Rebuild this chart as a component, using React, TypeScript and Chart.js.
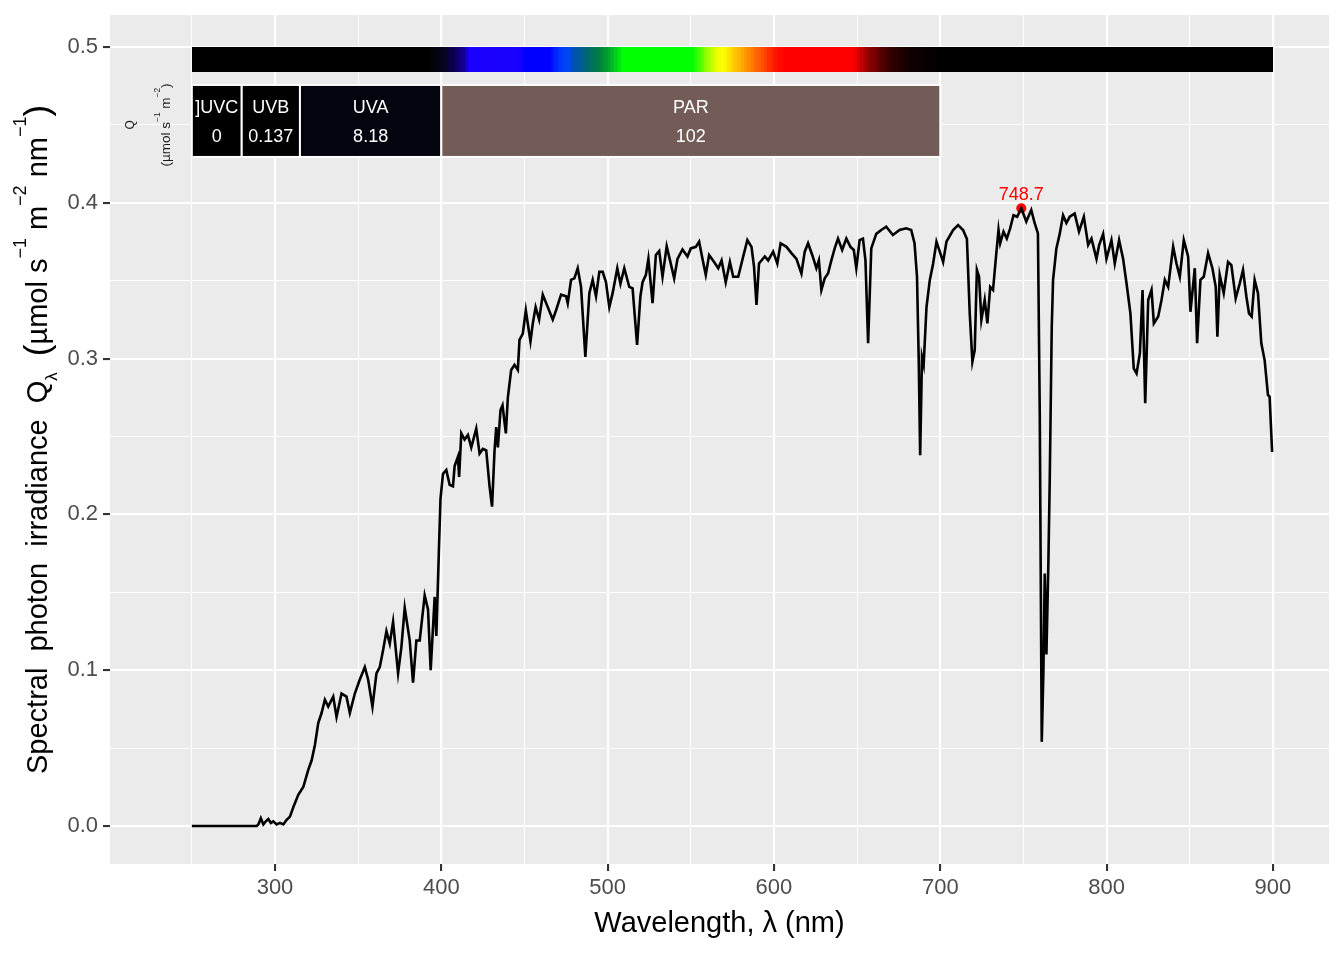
import { useEffect, useRef } from "react";
import { Chart, registerables } from "chart.js";

Chart.register(...registerables);

// spectral photon irradiance (nm, µmol s-1 m-2 nm-1)
const WAVELENGTH = [
  250, 260, 270, 280, 289, 290, 291.5, 293, 294.5, 296, 297.5, 299, 301, 303, 305, 307, 309,
  311, 314, 317, 320, 322, 324, 326, 328, 330, 332, 335, 337, 340, 343, 345, 348, 351, 354,
  356, 358.6, 361, 363, 365, 367, 369, 371, 374, 376, 378, 381, 383, 385, 387, 390, 392,
  393.6, 396, 397, 398.5, 399.5, 401, 403, 405, 407, 408, 410, 410.7, 412, 414, 416, 418,
  421, 423, 425, 427, 429, 430.5, 432, 433, 434, 435.6, 436.8, 438.8, 440, 442, 444, 446,
  447, 449, 450.8, 452.6, 453.6, 455, 456.7, 458.8, 461, 464, 467, 469, 472, 475, 476, 478,
  480, 482, 484, 486.6, 489, 491, 493, 495, 497, 499, 501, 503, 505.8, 507.7, 510, 513, 515,
  517.7, 519.7, 521, 523, 524.5, 527, 529, 531, 533, 535.5, 537.5, 540, 542, 545, 548, 550,
  553, 555, 557, 559, 561, 564, 566.5, 568.5, 571, 573.5, 575.5, 578.5, 581.5, 584, 586.5,
  588, 589.5, 591, 594.5, 596.5, 599.5, 602, 604, 607.5, 610.5, 613.5, 616.5, 618.5, 620.5,
  623, 625.5, 627, 628.5, 630.5, 632.5, 634.5, 636.5, 638.5, 641, 643.5, 646, 648, 649.5,
  651.5, 653.5, 655, 656.6, 658.5, 661.5, 664.5, 667.5, 671.5, 675.5, 679.5, 682.5, 684.5,
  686, 687, 687.9, 689, 690, 691.7, 693.7, 695.7, 697.7, 699.7, 701.7, 703.7, 707.7, 710.7,
  713.7, 716, 717.7, 719.3, 720.7, 722, 723.3, 724.7, 726.7, 728.3, 730, 731.7, 733.5, 735,
  736, 738, 740, 742, 744, 746.2, 748.7, 751.7, 754.7, 756.7, 758.7, 759.8, 761, 762, 762.8,
  763.8, 765, 765.8, 767, 767.8, 769.8, 771.8, 773.8, 775.8, 777.8, 780.8, 783.4, 786.3,
  788.9, 790.9, 793.9, 795.5, 797.9, 799.9, 802.9, 804.9, 807.5, 809.9, 812, 814.3, 816.3,
  818, 820, 821.6, 823.2, 825, 827, 828.4, 831, 833, 835, 837, 840, 842, 844, 846.4, 849,
  850.4, 853, 854.4, 856.4, 858.4, 861, 863.6, 865.6, 866.6, 868, 870.4, 873, 875, 877.6,
  880, 882, 884, 885.6, 887.2, 889, 891, 893, 895, 897, 898, 899.5,
];
const Q_IRRAD = [
  0, 0, 0, 0, 0, 0.001, 0.005, 0.001, 0.003, 0.0045, 0.002, 0.003, 0.001, 0.002, 0.001, 0.004, 0.006,
  0.012, 0.02, 0.025, 0.036, 0.042, 0.052, 0.066, 0.0725, 0.081, 0.0766, 0.083, 0.07, 0.085, 0.083, 0.0725, 0.085, 0.094, 0.102,
  0.094, 0.0766, 0.098, 0.102, 0.113, 0.125, 0.117, 0.131, 0.098, 0.115, 0.14, 0.119, 0.092, 0.119, 0.119, 0.148, 0.139,
  0.1, 0.147, 0.122, 0.175, 0.21, 0.226, 0.2285, 0.219, 0.218, 0.231, 0.237, 0.224, 0.252, 0.248, 0.251, 0.243,
  0.255, 0.239, 0.242, 0.241, 0.218, 0.205, 0.241, 0.256, 0.243, 0.267, 0.27, 0.252, 0.275, 0.2927, 0.296, 0.2927,
  0.312, 0.316, 0.331, 0.318, 0.311, 0.3226, 0.333, 0.325, 0.341, 0.333, 0.325, 0.331, 0.341, 0.34, 0.3355, 0.3505,
  0.3515, 0.358, 0.346, 0.301, 0.342, 0.3505, 0.34, 0.3557, 0.3557, 0.349, 0.333, 0.342, 0.358, 0.348, 0.358, 0.346, 0.345,
  0.3087, 0.34, 0.349, 0.3537, 0.364, 0.3355, 0.3665, 0.369, 0.3525, 0.372, 0.363, 0.3515, 0.364, 0.37, 0.3655, 0.3707,
  0.3717, 0.375, 0.364, 0.3537, 0.3665, 0.362, 0.358, 0.363, 0.349, 0.362, 0.3525, 0.3525, 0.3655, 0.376, 0.3717,
  0.359, 0.3344, 0.361, 0.3655, 0.363, 0.3686, 0.361, 0.374, 0.3717, 0.3677, 0.364, 0.3546, 0.3686, 0.374,
  0.3665, 0.358, 0.363, 0.344, 0.3515, 0.3546, 0.363, 0.3707, 0.377, 0.3697, 0.377, 0.3717, 0.3697, 0.358,
  0.376, 0.377, 0.363, 0.3098, 0.3707, 0.38, 0.3825, 0.3846, 0.3793, 0.3825, 0.3836, 0.3825, 0.374,
  0.3525, 0.301, 0.238, 0.301, 0.296, 0.333, 0.3505, 0.361, 0.375, 0.3686, 0.362, 0.375, 0.3825, 0.3857,
  0.3825, 0.3767, 0.329, 0.298, 0.3055, 0.3569, 0.3525, 0.3248, 0.3376, 0.3226, 0.346, 0.344, 0.3655, 0.3825,
  0.374, 0.3815, 0.377, 0.3836, 0.392, 0.391, 0.3965, 0.388, 0.3954, 0.387, 0.3803, 0.265, 0.054, 0.1, 0.162,
  0.11, 0.17, 0.222, 0.32, 0.3505, 0.3707, 0.38, 0.392, 0.387, 0.391, 0.393, 0.3815, 0.391,
  0.3729, 0.377, 0.364, 0.3729, 0.38, 0.364, 0.376, 0.361, 0.376, 0.364, 0.348, 0.329, 0.2937,
  0.2905, 0.3034, 0.344, 0.2713, 0.3376, 0.344, 0.3226, 0.327, 0.3376, 0.3505, 0.346, 0.3718, 0.361, 0.3525, 0.376, 0.3655,
  0.33, 0.358, 0.3098, 0.3505, 0.3525, 0.3676, 0.358, 0.346, 0.314, 0.3537, 0.342, 0.362, 0.36, 0.3386,
  0.348, 0.3569, 0.34, 0.329, 0.327, 0.3505, 0.342, 0.3098, 0.299, 0.2766, 0.2755, 0.24,
];

// peak annotation
const PEAK_WL = [748.7];
const PEAK_Q = [0.3965];
const PEAK_LABEL = ["748.7"];

// wavebands and their integrated photon irradiance
const BAND_NAMES = ["]UVC", "UVB", "UVA", "PAR"];
const BAND_LOW = [250, 280, 315, 400];
const BAND_HIGH = [280, 315, 400, 700];
const BAND_VALUES = ["0", "0.137", "8.18", "102"];

const X_TICKS = [250, 300, 350, 400, 450, 500, 550, 600, 650, 700, 750, 800, 850, 900];
const Y_TICKS = [0, 0.05, 0.1, 0.15, 0.2, 0.25, 0.3, 0.35, 0.4, 0.45, 0.5];

// styling
const FONT = "'Liberation Sans', Arial, Helvetica, sans-serif";
const BAND_COLORS = ["#000000", "#010101", "#04040F", "#735C57"];
const SPECTRUM_NM = [250, 392, 401, 407, 413, 417, 447, 451, 465, 471, 476, 480, 485, 490, 495, 500, 505, 509, 551, 556, 561, 566, 570, 575, 580, 584, 588, 593, 597, 602, 606, 648, 652, 657, 662, 667, 671, 682, 700, 900];
const SPECTRUM_HEX = ["#000000", "#000000", "#05051E", "#0A0050", "#120090", "#1C00FF", "#1800FF", "#0000FF", "#0000FF", "#0035FF", "#0048F0", "#0050B8", "#006085", "#006F60", "#008040", "#00A030", "#00D020", "#00FF00", "#00FF00", "#55FF00", "#AAFF00", "#EEFF00", "#FFFF00", "#FFD000", "#FFB000", "#FF9000", "#FF7000", "#FF5000", "#FF3000", "#FF1000", "#FF0000", "#FF0000", "#C80000", "#900000", "#6A0000", "#440000", "#300000", "#100000", "#000000", "#000000"];

const BAR_TOP = 0.5;
const BAR_BOTTOM = 0.4839;
const BOX_TOP = 0.4756;
const BOX_BOTTOM = 0.4294;
const BOX_NAME_Y = 0.4608;
const BOX_VALUE_Y = 0.4424;

type Part = { t: string; sup?: boolean; sub?: boolean; big?: boolean };

const Y_TITLE: Part[] = [
  { t: "Spectral  photon  irradiance  Q" },
  { t: "λ", sub: true },
  { t: "  " },
  { t: "(", big: true },
  { t: "µmol s" },
  { t: "−1", sup: true },
  { t: " m" },
  { t: "−2", sup: true },
  { t: " nm" },
  { t: "−1", sup: true },
  { t: ")", big: true },
];
const Q_LINE1: Part[] = [{ t: "Q" }];
const Q_LINE2: Part[] = [
  { t: "(µmol s" },
  { t: "−1", sup: true },
  { t: " m" },
  { t: "−2", sup: true },
  { t: ")" },
];

function hexToRgb(h: string) {
  return [parseInt(h.slice(1, 3), 16), parseInt(h.slice(3, 5), 16), parseInt(h.slice(5, 7), 16)];
}

function wlColor(nm: number) {
  let i = 0;
  while (i < SPECTRUM_NM.length - 2 && nm > SPECTRUM_NM[i + 1]) i++;
  const a = hexToRgb(SPECTRUM_HEX[i]);
  const b = hexToRgb(SPECTRUM_HEX[i + 1]);
  const f = Math.min(1, Math.max(0, (nm - SPECTRUM_NM[i]) / (SPECTRUM_NM[i + 1] - SPECTRUM_NM[i])));
  const c = a.map((v, k) => Math.round(v + (b[k] - v) * f));
  return `rgb(${c[0]},${c[1]},${c[2]})`;
}

// rotated text with super/subscripts, centred on cy, baseline at screen x = bx
function drawRich(ctx: CanvasRenderingContext2D, parts: Part[], size: number, bx: number, cy: number, color: string) {
  ctx.save();
  ctx.translate(bx, cy);
  ctx.rotate(-Math.PI / 2);
  const sizeOf = (p: Part) => (p.sup ? size * 0.62 : p.sub ? size * 0.58 : p.big ? size * 1.2 : size);
  let total = 0;
  const widths = parts.map((p) => {
    ctx.font = `${sizeOf(p)}px ${FONT}`;
    const w = ctx.measureText(p.t).width;
    total += w;
    return w;
  });
  let x = -total / 2;
  ctx.fillStyle = color;
  ctx.textAlign = "left";
  ctx.textBaseline = "alphabetic";
  parts.forEach((p, i) => {
    ctx.font = `${sizeOf(p)}px ${FONT}`;
    const dy = p.sup ? -size * 0.72 : p.sub ? size * 0.33 : p.big ? size * 0.08 : 0;
    ctx.fillText(p.t, x, dy);
    x += widths[i];
  });
  ctx.restore();
}

const isMajorX = (v: number) => v % 100 === 0;
const isMajorY = (v: number) => Math.abs(v * 10 - Math.round(v * 10)) < 1e-6;

const decorPlugin = {
  id: "decor",
  beforeDraw(chart: any) {
    const { ctx, chartArea } = chart;
    ctx.save();
    ctx.fillStyle = "#EBEBEB";
    ctx.fillRect(chartArea.left, chartArea.top, chartArea.right - chartArea.left, chartArea.bottom - chartArea.top);
    ctx.restore();
  },
  beforeDatasetsDraw(chart: any) {
    const { ctx } = chart;
    const xs = chart.scales.x;
    const ys = chart.scales.y;
    ctx.save();
    // colour bar of the visible spectrum, 2 nm steps on whole pixels
    const bt = Math.round(ys.getPixelForValue(BAR_TOP));
    const bb = Math.round(ys.getPixelForValue(BAR_BOTTOM));
    const first = X_TICKS[0];
    const last = X_TICKS[X_TICKS.length - 1];
    ctx.fillStyle = "#000000";
    ctx.fillRect(Math.round(xs.getPixelForValue(first)), bt, Math.round(xs.getPixelForValue(last)) - Math.round(xs.getPixelForValue(first)), bb - bt);
    for (let nm = first; nm < last; nm += 2) {
      const x0 = Math.round(xs.getPixelForValue(nm));
      const x1 = Math.round(xs.getPixelForValue(nm + 2));
      ctx.fillStyle = wlColor(nm + 1);
      ctx.fillRect(x0, bt, x1 - x0, bb - bt);
    }
    // waveband boxes
    const top = ys.getPixelForValue(BOX_TOP);
    const bot = ys.getPixelForValue(BOX_BOTTOM);
    const ny = ys.getPixelForValue(BOX_NAME_Y);
    const vy = ys.getPixelForValue(BOX_VALUE_Y);
    BAND_NAMES.forEach((name, i) => {
      const l = xs.getPixelForValue(BAND_LOW[i]);
      const r = xs.getPixelForValue(BAND_HIGH[i]);
      ctx.fillStyle = BAND_COLORS[i];
      ctx.fillRect(l, top, r - l, bot - top);
      ctx.strokeStyle = "#FFFFFF";
      ctx.lineWidth = 2;
      ctx.strokeRect(l, top, r - l, bot - top);
      ctx.fillStyle = "#FFFFFF";
      ctx.font = `18px ${FONT}`;
      ctx.textAlign = "center";
      ctx.textBaseline = "middle";
      ctx.fillText(name, (l + r) / 2, ny);
      ctx.fillText(BAND_VALUES[i], (l + r) / 2, vy);
    });
    ctx.restore();
    // Q label for the boxes
    const cy = (top + bot) / 2 + 4;
    drawRich(ctx, Q_LINE1, 12, xs.getPixelForValue(215.5), cy, "#1A1A1A");
    drawRich(ctx, Q_LINE2, 13.5, xs.getPixelForValue(237), cy, "#1A1A1A");
  },
  afterDatasetsDraw(chart: any) {
    const { ctx } = chart;
    const xs = chart.scales.x;
    const ys = chart.scales.y;
    ctx.save();
    ctx.fillStyle = "#FF0000";
    ctx.font = `18px ${FONT}`;
    ctx.textAlign = "center";
    ctx.textBaseline = "alphabetic";
    PEAK_LABEL.forEach((lab, i) => {
      ctx.fillText(lab, xs.getPixelForValue(PEAK_WL[i]), ys.getPixelForValue(PEAK_Q[i]) - 8);
    });
    ctx.restore();
  },
  afterDraw(chart: any) {
    const { ctx, chartArea } = chart;
    ctx.save();
    ctx.fillStyle = "#000000";
    ctx.font = `29px ${FONT}`;
    ctx.textAlign = "center";
    ctx.textBaseline = "alphabetic";
    ctx.fillText("Wavelength, λ (nm)", (chartArea.left + chartArea.right) / 2, 932);
    ctx.restore();
    drawRich(ctx, Y_TITLE, 29, 47, (chartArea.top + chartArea.bottom) / 2, "#000000");
  },
};

export default function App() {
  const canvasRef = useRef<HTMLCanvasElement | null>(null);

  useEffect(() => {
    if (!canvasRef.current) return;
    Chart.defaults.font.family = FONT;

    const chart = new Chart(canvasRef.current, {
      type: "line",
      data: {
        datasets: [
          {
            data: WAVELENGTH.map((w, i) => ({ x: w, y: Q_IRRAD[i] })),
            borderColor: "#000000",
            borderWidth: 2.6,
            pointRadius: 0,
            tension: 0,
            fill: false,
          },
          {
            data: PEAK_WL.map((w, i) => ({ x: w, y: PEAK_Q[i] })),
            showLine: false,
            pointRadius: 5,
            pointBackgroundColor: "#FF0000",
            pointBorderColor: "#FF0000",
            pointBorderWidth: 0,
          },
        ],
      },
      options: {
        animation: false,
        responsive: true,
        maintainAspectRatio: false,
        layout: { padding: { top: 15, right: 15, left: 0, bottom: 0 } },
        plugins: { legend: { display: false }, tooltip: { enabled: false } },
        scales: {
          x: {
            type: "linear",
            min: 200.8,
            max: 933.7,
            afterBuildTicks: (s: any) => {
              s.ticks = X_TICKS.map((v) => ({ value: v }));
            },
            afterFit: (s: any) => {
              s.height = 96;
              s.paddingLeft = 0;
              s.paddingRight = 0;
            },
            border: { display: false },
            grid: {
              color: "#FFFFFF",
              lineWidth: (c: any) => (c.tick && isMajorX(c.tick.value) ? 2.1 : 1.05),
              tickColor: (c: any) => (c.tick && isMajorX(c.tick.value) ? "#333333" : "rgba(0,0,0,0)"),
              tickLength: 7,
              tickWidth: 2.1,
            },
            ticks: {
              autoSkip: false,
              maxRotation: 0,
              padding: 4,
              color: "#4D4D4D",
              font: { size: 22, family: FONT },
              callback: (v: any) => (isMajorX(Number(v)) ? String(v) : ""),
            },
          },
          y: {
            type: "linear",
            min: -0.0244,
            max: 0.5205,
            afterBuildTicks: (s: any) => {
              s.ticks = Y_TICKS.map((v) => ({ value: v }));
            },
            afterFit: (s: any) => {
              s.width = 110;
              s.paddingTop = 0;
              s.paddingBottom = 0;
            },
            border: { display: false },
            grid: {
              color: "#FFFFFF",
              lineWidth: (c: any) => (c.tick && isMajorY(c.tick.value) ? 2.1 : 1.05),
              tickColor: (c: any) => (c.tick && isMajorY(c.tick.value) ? "#333333" : "rgba(0,0,0,0)"),
              tickLength: 7,
              tickWidth: 2.1,
            },
            ticks: {
              autoSkip: false,
              padding: 5,
              color: "#4D4D4D",
              font: { size: 22, family: FONT },
              callback: (v: any) => (isMajorY(Number(v)) ? Number(v).toFixed(1) : ""),
            },
          },
        },
      },
      plugins: [decorPlugin],
    });

    return () => chart.destroy();
  }, []);

  return (
    <div style={{ position: "absolute", left: 0, top: 0, width: 1344, height: 960, background: "#FFFFFF" }}>
      <canvas ref={canvasRef} />
    </div>
  );
}
